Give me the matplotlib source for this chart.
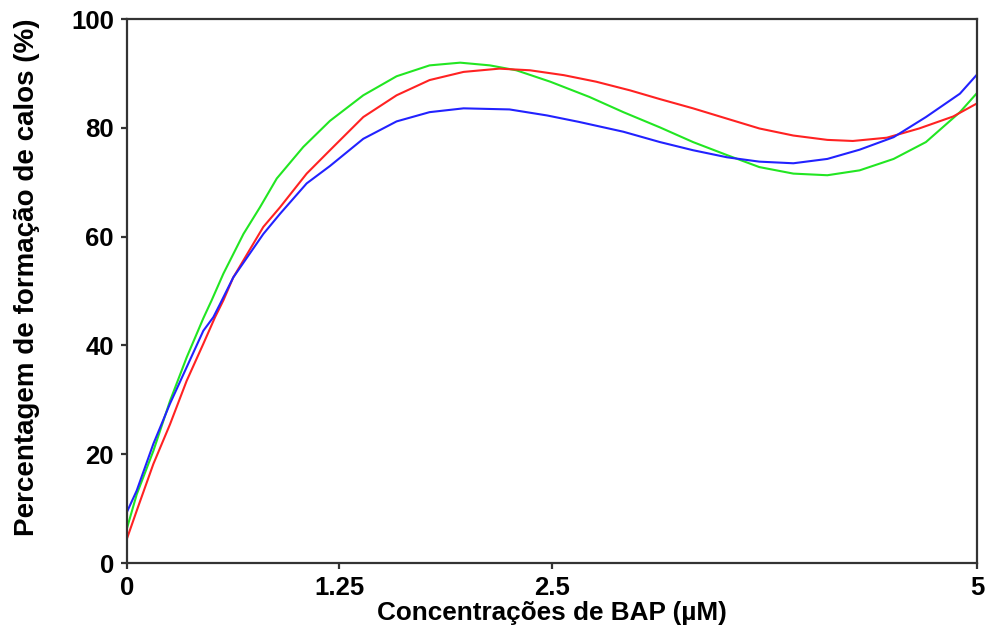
import numpy as np
import matplotlib.pyplot as plt

plt.rcParams['font.family'] = ['Liberation Sans', 'DejaVu Sans']
plt.rcParams['font.weight'] = 'bold'

# BAP concentration (uM) and callus formation (%) for each curve
x_green = [0, 0.057, 0.155, 0.253, 0.351, 0.449, 0.498, 0.567, 0.685, 0.782, 0.881,
           1.037, 1.194, 1.39, 1.586, 1.78, 1.96, 2.135, 2.29, 2.49, 2.72, 2.92,
           3.135, 3.33, 3.53, 3.72, 3.92, 4.12, 4.31, 4.51, 4.70, 4.9, 5.0]
y_green = [6.4, 12.6, 20.6, 29.8, 37.8, 45.0, 48.3, 53.2, 60.5, 65.4, 70.7,
           76.5, 81.3, 86.0, 89.5, 91.5, 92.0, 91.5, 90.6, 88.5, 85.7, 82.9,
           80.1, 77.4, 75.0, 72.8, 71.6, 71.3, 72.2, 74.3, 77.4, 82.9, 86.4]

x_red = [0, 0.057, 0.155, 0.253, 0.351, 0.449, 0.518, 0.567, 0.625, 0.802, 0.9,
         1.057, 1.194, 1.39, 1.586, 1.78, 1.98, 2.19, 2.37, 2.57, 2.76, 2.96,
         3.135, 3.33, 3.53, 3.72, 3.92, 4.12, 4.27, 4.47, 4.66, 4.86, 5.0]
y_red = [4.5, 9.6, 18.2, 25.5, 33.5, 40.3, 45.2, 48.3, 52.5, 61.8, 65.4,
         71.6, 75.9, 82.0, 86.0, 88.8, 90.3, 90.9, 90.6, 89.7, 88.5, 86.9,
         85.3, 83.6, 81.7, 79.9, 78.6, 77.8, 77.6, 78.2, 79.9, 82.1, 84.5]

x_blue = [0, 0.057, 0.155, 0.253, 0.351, 0.449, 0.508, 0.547, 0.625, 0.802, 0.9,
          1.057, 1.194, 1.39, 1.586, 1.78, 1.98, 2.25, 2.47, 2.66, 2.92,
          3.135, 3.33, 3.53, 3.72, 3.92, 4.12, 4.31, 4.51, 4.70, 4.9, 5.0]
y_blue = [9.4, 13.3, 21.9, 29.3, 36.0, 42.7, 45.2, 47.6, 52.5, 60.5, 64.2,
          69.8, 73.0, 78.0, 81.2, 82.9, 83.6, 83.4, 82.3, 81.1, 79.3,
          77.4, 75.9, 74.6, 73.8, 73.5, 74.3, 76.0, 78.3, 82.0, 86.3, 89.8]

x_ticks = [0, 1.25, 2.5, 5]
x_tick_labels = ['0', '1.25', '2.5', '5']
y_ticks = [0, 20, 40, 60, 80, 100]

fig = plt.figure(figsize=(9.86, 6.28), dpi=100)
ax = fig.add_axes([0.1288, 0.1035, 0.862, 0.866])

ax.plot(x_green, y_green, color='#22e622', lw=1.5)
ax.plot(x_red, y_red, color='#ff2222', lw=1.5)
ax.plot(x_blue, y_blue, color='#2222ff', lw=1.5)

ax.set_xlim(0, 5)
ax.set_ylim(0, 100)
ax.set_xticks(x_ticks)
ax.set_xticklabels(x_tick_labels)
ax.set_yticks(y_ticks)

for s in ax.spines.values():
    s.set_linewidth(1.6)
    s.set_color('#333333')
ax.tick_params(direction='out', length=4.5, width=1.6, color='#333333',
               labelsize=18.5, pad=5)

ax.set_xlabel('Concentrações de BAP (µM)', fontsize=18.8, fontweight='bold')
ax.set_ylabel('Percentagem de formação de calos (%)', fontsize=20,
              fontweight='bold')
ax.xaxis.set_label_coords(0.5, -0.069, transform=ax.transAxes)
ax.yaxis.set_label_coords(-0.102, 0.526, transform=ax.transAxes)

plt.savefig('out.png', dpi=100)
